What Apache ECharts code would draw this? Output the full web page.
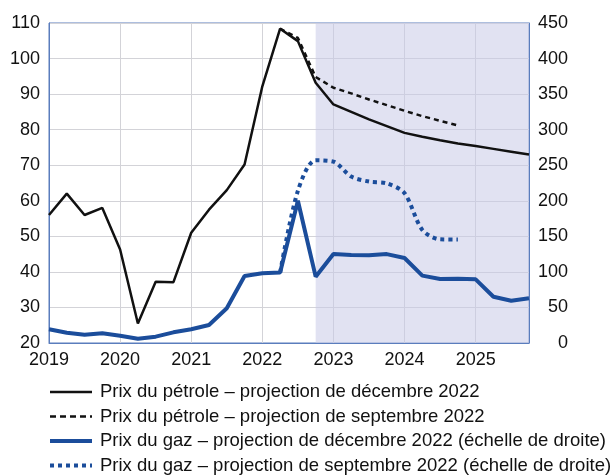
<!DOCTYPE html>
<html>
<head>
<meta charset="utf-8">
<script src="https://cdn.jsdelivr.net/npm/echarts@6/dist/echarts.min.js"></script>
<style>
html,body{margin:0;padding:0;background:#fff;}
#c{width:613px;height:475px;}
</style>
</head>
<body>
<div id="c"></div>
<script>
// Quarterly categories 2019 T1 ... 2025 T4
var quarters = [
  '2019-T1','2019-T2','2019-T3','2019-T4',
  '2020-T1','2020-T2','2020-T3','2020-T4',
  '2021-T1','2021-T2','2021-T3','2021-T4',
  '2022-T1','2022-T2','2022-T3','2022-T4',
  '2023-T1','2023-T2','2023-T3','2023-T4',
  '2024-T1','2024-T2','2024-T3','2024-T4',
  '2025-T1','2025-T2','2025-T3','2025-T4'
];
var projectionStart = '2022-T4';
var projectionEnd = '2025-T4';

var seriesNames = [
  'Prix du pétrole – projection de décembre 2022',
  'Prix du pétrole – projection de septembre 2022',
  'Prix du gaz – projection de décembre 2022 (échelle de droite)',
  'Prix du gaz – projection de septembre 2022 (échelle de droite)'
];

var oilDec = [56, 62, 56, 58, 46.3, 25.5, 37.2, 37.1, 51, 57.5, 63, 70.2,
              92.2, 108.4, 104.9, 93.2, 87.1, 85, 82.9, 81, 79.1, 78, 77, 76.1,
              75.4, 74.6, 73.8, 73];
var oilSep = [null, null, null, null, null, null, null, null, null, null, null, null,
              null, 108.4, 105.8, 94.8, 91.8, 90.2, 88.5, 86.9, 85.3, 83.8, 82.5, 81.2,
              null, null, null, null];
var gasDec = [19.3, 14.5, 11.5, 13.6, 10.3, 6, 8.9, 15, 19.3, 25.3, 48.8, 94.2,
              98, 99, 200, 93.3, 125, 123.7, 123.5, 125, 119.5, 94.7, 90, 90.5,
              89.5, 65, 59.5, 62.8];
var gasSep = [null, null, null, null, null, null, null, null, null, null, null, null,
              null, 99, 214, 257, 255, 234, 227, 224.5, 210.5, 159, 145.8, 145.5,
              null, null, null, null];

var BLUE = '#1b4d9b';
var BLACK = '#111111';
var FRAME = '#5a7dbd';
var GRID = '#d3d3d8';
var FONT = 'Liberation Sans, Arial, sans-serif';

var chart = echarts.init(document.getElementById('c'), null, {renderer: 'canvas'});
chart.setOption({
  animation: false,
  backgroundColor: '#ffffff',
  textStyle: {fontFamily: FONT},
  grid: {left: 49, right: 84, top: 23, bottom: 132, show: true,
         borderColor: FRAME, borderWidth: 1, backgroundColor: 'transparent'},
  legend: {
    orient: 'vertical', left: 48, top: 382, height: 110, padding: 0,
    itemWidth: 42, itemHeight: 12, itemGap: 4.5,
    itemStyle: {opacity: 0},
    textStyle: {fontFamily: FONT, fontSize: 18.5, color: '#111', lineHeight: 20,
                padding: [0, 0, 0, 3]},
    data: [
      {name: seriesNames[0], lineStyle: {width: 2.5, color: BLACK, type: 'solid'}},
      {name: seriesNames[1], lineStyle: {width: 2.5, color: BLACK, type: [6, 4]}},
      {name: seriesNames[2], lineStyle: {width: 4, color: BLUE, type: 'solid'}},
      {name: seriesNames[3], lineStyle: {width: 4, color: BLUE, type: [4, 4]}}
    ]
  },
  xAxis: {
    type: 'category', data: quarters, boundaryGap: false,
    axisLine: {lineStyle: {color: FRAME, width: 1}},
    axisTick: {show: false},
    axisLabel: {interval: 3, color: '#111', fontSize: 18, fontFamily: FONT, margin: 8,
                formatter: function (v) { return v.slice(0, 4); }},
    splitLine: {show: true, interval: 3, lineStyle: {color: GRID, width: 1}}
  },
  yAxis: [
    {type: 'value', min: 20, max: 110, interval: 10, position: 'left',
     axisLine: {show: true, lineStyle: {color: FRAME}}, axisTick: {show: false},
     axisLabel: {color: '#111', fontSize: 18, fontFamily: FONT, margin: 9},
     splitLine: {show: true, lineStyle: {color: GRID, width: 1}}},
    {type: 'value', min: 0, max: 450, interval: 50, position: 'right',
     axisLine: {show: true, lineStyle: {color: FRAME}}, axisTick: {show: false},
     axisLabel: {color: '#111', fontSize: 18, fontFamily: FONT, margin: 39, align: 'right'},
     splitLine: {show: false}}
  ],
  series: [
    {name: seriesNames[0], type: 'line', yAxisIndex: 0, data: oilDec, symbol: 'none',
     color: BLACK, lineStyle: {color: BLACK, width: 2.5}, z: 4,
     markArea: {silent: true, itemStyle: {color: 'rgba(200,202,232,0.55)'},
                data: [[{xAxis: projectionStart}, {xAxis: projectionEnd}]]}},
    {name: seriesNames[1], type: 'line', yAxisIndex: 0, data: oilSep, symbol: 'none',
     color: BLACK, lineStyle: {color: BLACK, width: 2.5, type: [5, 4]}, z: 3},
    {name: seriesNames[2], type: 'line', yAxisIndex: 1, data: gasDec, symbol: 'none',
     color: BLUE, lineStyle: {color: BLUE, width: 4}, z: 4},
    {name: seriesNames[3], type: 'line', yAxisIndex: 1, data: gasSep, symbol: 'none',
     smooth: 0.3, color: BLUE, lineStyle: {color: BLUE, width: 4, type: [4, 4]}, z: 3}
  ]
});
</script>
</body>
</html>
